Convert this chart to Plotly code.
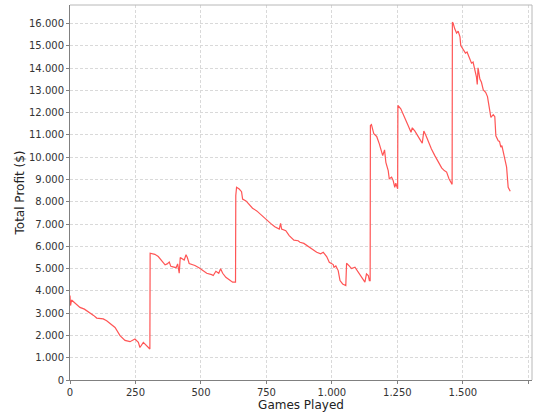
"""Total profit over games played, single red line."""
import plotly.graph_objects as go

LINE_RED = "#FF5555"
GRID = "#d9d9d9"
AXIS = "#808080"

# games played (x) and running profit in $ (y)
games = [
    0, 2, 6, 20, 38, 55, 76, 90, 102, 127, 140, 153, 172, 191, 210, 229, 248, 261, 267, 280, 293, 305,
    306, 315, 324, 337, 350, 363, 371, 379, 385, 394, 405, 411, 417, 421, 430, 436, 443, 448, 455,
    468, 477, 494, 506, 522, 541, 547, 557, 568, 575, 583, 595, 611, 621, 632,
    633, 636, 646, 655, 659, 672, 684, 697, 713, 732, 748, 766, 782, 799, 804, 808, 824, 837, 855,
    871, 878, 893, 910, 926, 942, 957, 967, 980, 990, 1005, 1008, 1015, 1024, 1031, 1041, 1053,
    1056, 1066, 1075, 1088, 1100, 1113, 1126, 1132, 1139, 1143, 1146,
    1147, 1151, 1160, 1171, 1181, 1190, 1194, 1201, 1206, 1215, 1219, 1228, 1234, 1240, 1244, 1251,
    1252, 1263, 1272, 1281, 1291, 1302, 1307, 1317, 1329, 1340, 1345, 1351, 1359, 1368, 1380, 1393,
    1406, 1419, 1429, 1438, 1447, 1454, 1459,
    1460, 1463, 1469, 1476, 1482, 1489, 1492, 1501, 1510, 1516, 1523, 1533, 1539, 1546, 1552, 1555,
    1558, 1565, 1571, 1578, 1587, 1594, 1599, 1607, 1616, 1622, 1626, 1635, 1640, 1645, 1649, 1654,
    1660, 1667, 1671, 1673, 1681,
]
profit = [
    3790, 3340, 3590, 3450, 3260, 3180, 3020, 2900, 2780, 2740, 2660, 2550, 2360, 1990, 1780, 1720, 1840, 1690, 1460, 1690, 1550, 1390,
    5690, 5660, 5640, 5540, 5360, 5170, 5210, 5290, 5100, 5070, 5040, 5210, 4790, 5500, 5420, 5380, 5620, 5500, 5230,
    5180, 5140, 5030, 4940, 4790, 4730, 4690, 4880, 4790, 4990, 4790, 4610, 4490, 4390, 4390,
    8280, 8650, 8570, 8450, 8120, 8040, 7860, 7710, 7590, 7370, 7220, 7030, 6880, 6770, 7030, 6770, 6700, 6480, 6280,
    6250, 6180, 6130, 5990, 5840, 5730, 5660, 5730, 5540, 5280, 5180, 5060, 5120, 4910, 4460, 4310, 4240,
    5240, 5120, 5000, 5060, 4840, 4610, 4390, 4760, 4690, 4460, 4460,
    11420, 11460, 11050, 10930, 10600, 10300, 10070, 10330, 9770, 9400, 9030, 9100, 8950, 8650, 8830, 8580,
    12320, 12170, 11950, 11680, 11420, 11120, 11320, 11170, 10900, 10720, 10630, 11170, 10970, 10670, 10370, 10070,
    9780, 9520, 9400, 9330, 9030, 8880, 8780,
    16060, 16010, 15760, 15570, 15660, 15400, 15010, 14860, 14670, 14720, 14490, 14220, 14270, 13920, 13590, 13260,
    14010, 13510, 13360, 13020, 12910, 12720, 12310, 11790, 11910, 11820, 10960, 10740, 10710, 10450, 10520, 10220,
    9990, 9550, 8950, 8650, 8470,
]

x_ticks = [0, 250, 500, 750, 1000, 1250, 1500, 1750]
y_ticks = list(range(0, 17000, 1000))

fig = go.Figure(
    go.Scatter(
        x=games, y=profit, mode="lines",
        line=dict(color=LINE_RED, width=1.2),
        hoverinfo="skip", showlegend=False,
    )
)

axis_common = dict(
    showgrid=True, gridcolor=GRID, griddash="3px,2px", gridwidth=1,
    zeroline=False, showline=True, linecolor=AXIS, linewidth=1,
    ticks="outside", ticklen=3, tickcolor=AXIS, tickformat=",d",
    tickfont=dict(size=10, color="#333333"), automargin=False,
)
fig.update_xaxes(
    range=[0, 1764], tickvals=x_ticks,
    title=dict(text="Games Played", standoff=3, font=dict(size=12, color="#222")),
    **axis_common,
)
fig.update_yaxes(
    range=[0, 16830], tickvals=y_ticks,
    title=dict(text="Total Profit ($)", standoff=1, font=dict(size=12, color="#222")),
    **axis_common,
)

# light frame on the top and right of the plot area
fig.add_shape(type="line", xref="paper", yref="paper", x0=0, x1=1, y0=1, y1=1, line=dict(color="#b8b8b8", width=1))
fig.add_shape(type="line", xref="paper", yref="paper", x0=1, x1=1, y0=0, y1=1, line=dict(color="#b8b8b8", width=1))

fig.update_layout(
    width=540, height=420,
    margin=dict(l=70, r=8, t=5, b=40),
    paper_bgcolor="white", plot_bgcolor="white",
    separators=",.",
    font=dict(family="DejaVu Sans, Arial", color="#222"),
)

# drop the browser's default body margin so the figure sits at the page corner
fig.write_html("out.html", config={"displayModeBar": False},
               post_script="document.body.style.margin='0';")
